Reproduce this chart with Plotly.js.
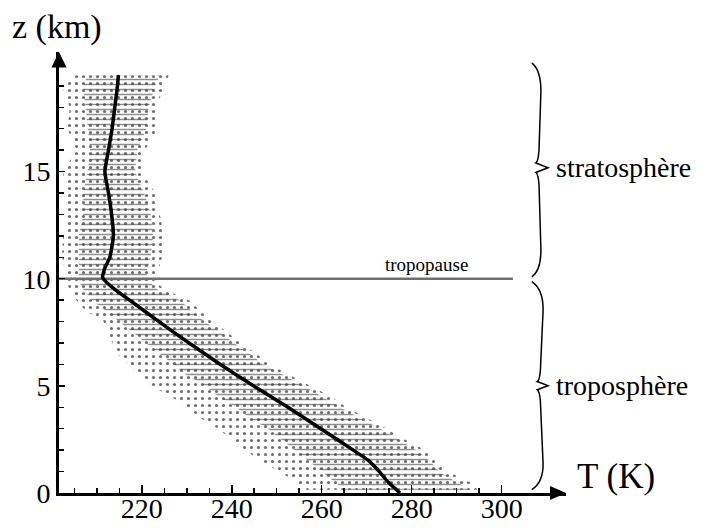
<!DOCTYPE html>
<html>
<head>
<meta charset="utf-8">
<script src="https://cdn.plot.ly/plotly-3.0.1.min.js"></script>
<style>html,body{margin:0;padding:0;background:#fff;}#chart{width:703px;height:531px;}</style>
</head>
<body>
<div id="chart"></div>
<script>
// Mean temperature profile (thick black line)
const zMean = [0, 0.5, 1.0, 1.5, 2, 3, 4, 5, 6, 7, 8, 9, 9.5, 10.05, 10.5, 11, 12, 13, 14, 15, 16, 17, 18, 19, 19.5];
const tMean = [277.4, 274.8, 272.8, 270.5, 267.0, 259.8, 252.5, 244.8, 237.5, 230.5, 223.8, 217.3, 214.0, 211.3, 211.8, 212.9, 213.7, 213.3, 212.6, 211.8, 212.6, 213.4, 214.0, 214.6, 214.8];

// Spread of individual soundings: altitude levels, outer envelope and dense core
const zEnv   = [0.15, 0.5, 1.0, 1.5, 2.0, 2.5, 3.0, 3.5, 4.0, 4.5, 5.0, 5.5, 6.0, 6.5, 7.0, 7.5, 8.0, 8.5, 9.0, 9.5, 9.9, 10.3, 11.0, 12.0, 13.0, 14.0, 15.0, 16.0, 17.0, 18.0, 19.0, 19.5];
const tLeft  = [256, 254.5, 250.5, 246.5, 243, 240, 237, 233, 230, 226.5, 222, 219.5, 217, 214.5, 213.5, 212.5, 211.5, 207.5, 205.5, 204, 203, 203, 202.3, 202.5, 203.5, 203, 202.5, 205.5, 203.5, 204, 202.3, 205];
const tRight = [295, 293, 288, 285.5, 283, 278.5, 274.5, 270, 265.5, 262, 257.5, 253, 248.5, 245.5, 242, 239, 236, 233, 230.5, 225, 223, 223.6, 224.5, 225, 224, 223, 220, 220.7, 223.5, 223, 225.2, 226];
const tCoreL = [265, 263, 260, 257, 254, 251, 248, 244, 241, 237, 234, 230, 227, 224, 221, 218, 215, 212, 209, 207, 206, 206, 206, 206, 207, 207, 208, 208.5, 208, 207.5, 207, 208];
const tCoreR = [293, 290, 286, 284, 281, 277, 273, 268.5, 264, 260, 256, 251.5, 247, 244, 240.5, 237.5, 234, 231, 228.5, 223.5, 221.5, 221, 222, 222.5, 222, 220.5, 218.5, 219, 221, 221.5, 223, 224];

// Tropopause
const tropoT = [201.6, 302.5];
const tropoZ = [10, 10];

// Axis ticks
const xTickVals = [220, 240, 260, 280, 300];
const xMinorVals = [205, 210, 215, 225, 230, 235, 245, 250, 255, 265, 270, 275, 285, 290, 295];
const yTickVals = [0, 5, 10, 15];
const yMinorVals = [1, 2, 3, 4, 6, 7, 8, 9, 11, 12, 13, 14, 16, 17, 18, 19];

const serif = 'Liberation Serif, Times New Roman, serif';

function band(l, r, z) {
  return {
    x: l.concat(r.slice().reverse()),
    y: z.concat(z.slice().reverse())
  };
}
const outer = band(tLeft, tRight, zEnv);
const core = band(tCoreL, tCoreR, zEnv);

const traces = [
  {
    x: outer.x, y: outer.y, type: 'scatter', mode: 'lines', fill: 'toself',
    line: {width: 0, color: 'rgba(0,0,0,0)'}, fillcolor: 'rgba(0,0,0,0)',
    fillpattern: {shape: '.', size: 7, solidity: 0.16, fgcolor: '#555', fgopacity: 0.85},
    hoverinfo: 'skip', showlegend: false
  },
  {
    x: core.x, y: core.y, type: 'scatter', mode: 'lines', fill: 'toself',
    line: {width: 0, color: 'rgba(0,0,0,0)'}, fillcolor: 'rgba(0,0,0,0)',
    fillpattern: {shape: '-', size: 5, solidity: 0.3, fgcolor: '#444', fgopacity: 0.6},
    hoverinfo: 'skip', showlegend: false
  },
  {
    x: tropoT, y: tropoZ, type: 'scatter', mode: 'lines',
    line: {color: '#707070', width: 2.5}, showlegend: false, hoverinfo: 'skip'
  },
  {
    x: tMean, y: zMean, type: 'scatter', mode: 'lines',
    line: {color: '#000', width: 3.5, shape: 'spline', smoothing: 0.5}, showlegend: false
  }
];

const layout = {
  width: 703, height: 531,
  margin: {l: 59, r: 137, t: 52, b: 38, pad: 0},
  paper_bgcolor: '#fff', plot_bgcolor: '#fff',
  showlegend: false,
  xaxis: {
    range: [201.6, 314.3], showgrid: false, zeroline: false,
    showline: true, linecolor: '#000', linewidth: 3,
    ticks: 'inside', ticklen: 8, tickwidth: 1.5, tickcolor: '#000',
    tickmode: 'array', tickvals: xTickVals, ticktext: xTickVals.map(String),
    ticklabelstandoff: -12,
    tickfont: {family: serif, size: 28, color: '#000'},
    minor: {tickmode: 'array', tickvals: xMinorVals, ticks: 'inside', ticklen: 5, tickwidth: 1.5, tickcolor: '#000', showgrid: false}
  },
  yaxis: {
    range: [0, 20.58], showgrid: false, zeroline: false,
    showline: true, linecolor: '#000', linewidth: 3,
    ticks: 'inside', ticklen: 6, tickwidth: 1.5, tickcolor: '#000',
    tickmode: 'array', tickvals: yTickVals, ticktext: yTickVals.map(String),
    tickfont: {family: serif, size: 28, color: '#000'},
    minor: {tickmode: 'array', tickvals: yMinorVals, ticks: 'inside', ticklen: 5, tickwidth: 1.5, tickcolor: '#000', showgrid: false}
  },
  shapes: [
    // arrow heads of the axes
    {type: 'path', xref: 'paper', yref: 'paper', path: 'M 0 1.0 L -0.015 0.965 L 0.015 0.965 Z', fillcolor: '#000', line: {width: 0}},
    {type: 'path', xref: 'paper', yref: 'paper', path: 'M 1.0 0 L 0.9684 0.0159 L 0.9684 -0.0159 Z', fillcolor: '#000', line: {width: 0}},
    // braces
    {type: 'path', xref: 'x', yref: 'y', line: {color: '#000', width: 1.5},
     path: 'M 306.7 20.07 Q 308.9 19.7 308.7 18.6 L 308.3 16.0 Q 308.1 15.45 307.6 15.4 L 310.3 15.18 L 307.6 14.96 Q 308.1 14.9 308.3 14.4 L 308.7 11.5 Q 308.9 10.4 306.7 10.09'},
    {type: 'path', xref: 'x', yref: 'y', line: {color: '#000', width: 1.5},
     path: 'M 306.7 9.86 Q 309.3 9.5 309.2 8.5 L 308.6 5.7 Q 308.4 5.25 307.9 5.2 L 310.3 5.01 L 307.9 4.82 Q 308.4 4.75 308.6 4.3 L 309.2 1.4 Q 309.3 0.5 306.7 0.16'}
  ],
  annotations: [
    {text: 'z (km)', xref: 'paper', yref: 'paper', x: -0.0966, y: 1.0566, xanchor: 'left', yanchor: 'middle', showarrow: false, font: {family: serif, size: 34, color: '#000'}},
    {text: 'T (K)', xref: 'paper', yref: 'paper', x: 1.018, y: 0.037, xanchor: 'left', yanchor: 'middle', showarrow: false, font: {family: serif, size: 35, color: '#000'}},
    {text: 'tropopause', xref: 'x', yref: 'y', x: 283.4, y: 10.65, xanchor: 'center', yanchor: 'middle', showarrow: false, font: {family: serif, size: 19, color: '#000'}},
    {text: 'stratosphère', xref: 'x', yref: 'y', x: 311.6, y: 15.18, xanchor: 'left', yanchor: 'middle', showarrow: false, font: {family: serif, size: 28, color: '#000'}},
    {text: 'troposphère', xref: 'x', yref: 'y', x: 311.6, y: 5.01, xanchor: 'left', yanchor: 'middle', showarrow: false, font: {family: serif, size: 28, color: '#000'}}
  ]
};

Plotly.newPlot('chart', traces, layout, {displayModeBar: false, staticPlot: true});
</script>
</body>
</html>
